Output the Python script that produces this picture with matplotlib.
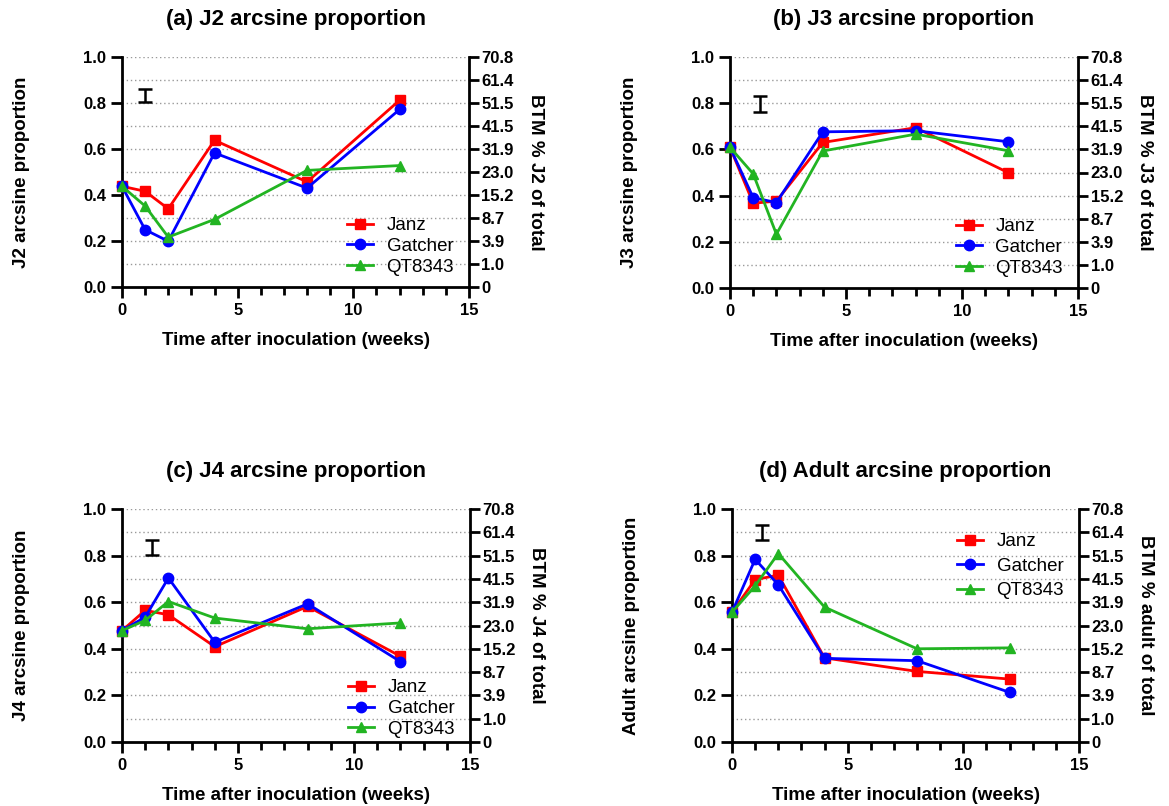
import numpy as np
import matplotlib
matplotlib.use('Agg')
import matplotlib.pyplot as plt
from matplotlib.ticker import MultipleLocator

plt.rcParams['font.family'] = ['Liberation Sans', 'DejaVu Sans']

# data
weeks = [0, 1, 2, 4, 8, 12]
series = ['Janz', 'Gatcher', 'QT8343']

j2_janz = [0.438, 0.416, 0.340, 0.638, 0.457, 0.812]
j2_gatcher = [0.438, 0.249, 0.199, 0.583, 0.430, 0.772]
j2_qt = [0.438, 0.352, 0.217, 0.294, 0.507, 0.528]

j3_janz = [0.609, 0.367, 0.376, 0.630, 0.694, 0.499]
j3_gatcher = [0.609, 0.391, 0.370, 0.676, 0.681, 0.633]
j3_qt = [0.609, 0.494, 0.233, 0.593, 0.666, 0.594]

j4_janz = [0.478, 0.565, 0.546, 0.409, 0.582, 0.368]
j4_gatcher = [0.478, 0.536, 0.704, 0.428, 0.593, 0.345]
j4_qt = [0.478, 0.522, 0.603, 0.532, 0.486, 0.511]

ad_janz = [0.557, 0.697, 0.716, 0.361, 0.303, 0.270]
ad_gatcher = [0.557, 0.784, 0.675, 0.359, 0.349, 0.213]
ad_qt = [0.557, 0.670, 0.809, 0.579, 0.400, 0.404]

# error bar (x, centre, half-length) per panel
err_x = [1.0, 1.3, 1.3, 1.3]
err_y = [0.833, 0.797, 0.834, 0.899]
err_h = [0.029, 0.034, 0.032, 0.032]

right_ticks = [0, 0.1, 0.2, 0.3, 0.4, 0.5, 0.6, 0.7, 0.8, 0.9, 1.0]
right_labels = ['0', '1.0', '3.9', '8.7', '15.2', '23.0', '31.9', '41.5', '51.5', '61.4', '70.8']

titles = ['(a) J2 arcsine proportion', '(b) J3 arcsine proportion',
          '(c) J4 arcsine proportion', '(d) Adult arcsine proportion']
ylabels = ['J2 arcsine proportion', 'J3 arcsine proportion',
           'J4 arcsine proportion', 'Adult arcsine proportion']
rlabels = ['BTM % J2 of total', 'BTM % J3 of total',
           'BTM % J4 of total', 'BTM % adult of total']
panels = [(j2_janz, j2_gatcher, j2_qt), (j3_janz, j3_gatcher, j3_qt),
          (j4_janz, j4_gatcher, j4_qt), (ad_janz, ad_gatcher, ad_qt)]
legend_loc = ['lower right', 'lower right', 'lower right', 'upper right']
legend_anchor = [(1.0, -0.017), (1.0, -0.017), (1.0, -0.047), (1.0, 0.961)]
legend_space = [0.2, 0.2, 0.2, 0.4]

colors = ['#ff0000', '#0000ff', '#22b422']
markers = ['s', 'o', '^']
msizes = [7.5, 7.5, 7]

W, H = 1169, 806
fig = plt.figure(figsize=(W / 100, H / 100), dpi=100)
boxes = [(122, 57, 469, 287), (730, 57, 1078, 288),
         (122, 509, 470, 742), (732, 509, 1079, 742)]

for i, (l, t, r, b) in enumerate(boxes):
    ax = fig.add_axes([l / W, 1 - b / H, (r - l) / W, (b - t) / H])
    for k in range(3):
        ax.plot(weeks, panels[i][k], color=colors[k], marker=markers[k],
                markersize=msizes[k], lw=2, label=series[k],
                clip_on=False, zorder=3)
    ax.errorbar([err_x[i]], [err_y[i]], yerr=[err_h[i]], color='black',
                capsize=5, capthick=1.8, elinewidth=1.8, fmt='none')
    ax.set_xlim(0, 15)
    ax.set_ylim(0, 1)
    ax.xaxis.set_major_locator(MultipleLocator(5))
    ax.xaxis.set_minor_locator(MultipleLocator(1))
    ax.yaxis.set_major_locator(MultipleLocator(0.2))
    for g in np.arange(0.1, 1.01, 0.1):
        ax.axhline(g, color='#999999', lw=1, ls=(0, (1, 2)), zorder=0)
    for s in ['left', 'bottom', 'right']:
        ax.spines[s].set_linewidth(2)
    ax.spines['top'].set_visible(False)
    ax.tick_params(which='major', length=8, width=2, labelsize=12)
    ax.tick_params(which='minor', length=6, width=2)
    for lab in ax.get_xticklabels() + ax.get_yticklabels():
        lab.set_fontweight('bold')
    ax.set_title(titles[i], fontsize=16, fontweight='bold', pad=23)
    ax.set_xlabel('Time after inoculation (weeks)', fontsize=13.5, fontweight='bold', labelpad=10)
    ax.set_ylabel(ylabels[i], fontsize=13.5, fontweight='bold', labelpad=38)
    ax.legend(loc=legend_loc[i], bbox_to_anchor=legend_anchor[i], frameon=False,
              fontsize=13.5, handlelength=1.4, handletextpad=0.7,
              borderaxespad=0.4, labelspacing=legend_space[i])

    ax2 = ax.twinx()
    ax2.set_ylim(0, 1)
    ax2.set_yticks(right_ticks)
    ax2.set_yticklabels(right_labels, fontsize=12, fontweight='bold')
    ax2.tick_params(length=7, width=2, pad=2)
    for s in ax2.spines.values():
        s.set_visible(False)
    ax2.set_ylabel(rlabels[i], fontsize=13.5, fontweight='bold', rotation=270, labelpad=22)

fig.savefig('out.png', dpi=100)
